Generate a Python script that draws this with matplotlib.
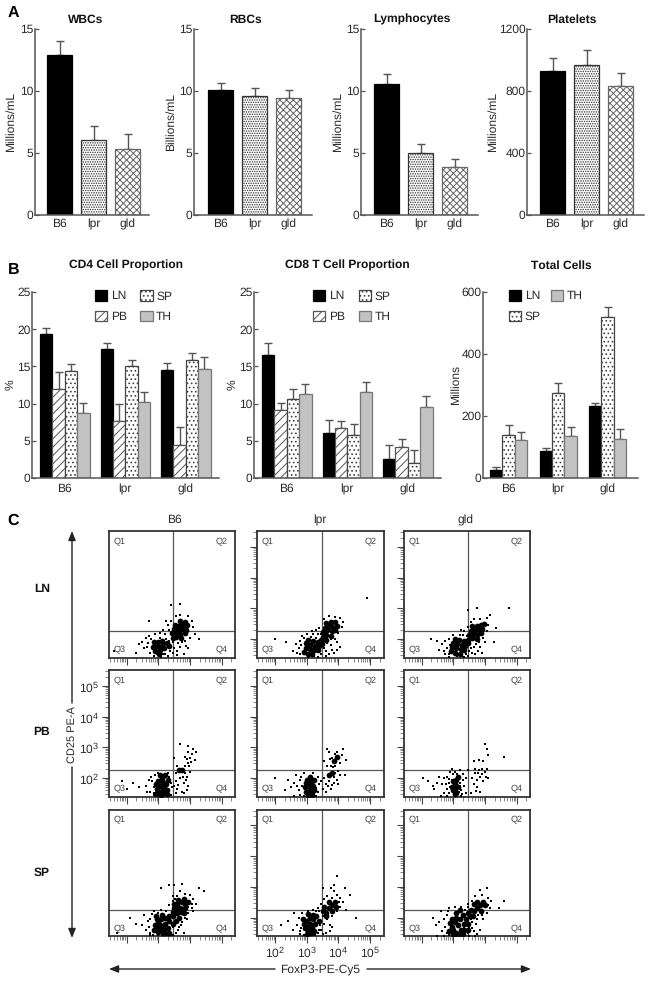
import matplotlib
matplotlib.use("Agg")
import matplotlib.pyplot as plt
from matplotlib.patches import Patch
from matplotlib.ticker import LogLocator, NullFormatter, FixedLocator

plt.rcParams['font.family'] = ['Liberation Sans', 'DejaVu Sans']
plt.rcParams['mathtext.default'] = 'regular'
plt.rcParams['hatch.linewidth'] = 0.7
plt.rcParams['text.hinting'] = 'none'
plt.rcParams['text.hinting_factor'] = 1
W, H = 651, 982
INK = '#2a2a2a'
LINE = '#555555'

# ---- Panel A ----
strains = ['B6', 'lpr', 'gld']
wbc = [12.9, 6.05, 5.3];      wbc_top = [14.0, 7.15, 6.55]
rbc = [10.05, 9.6, 9.45];     rbc_top = [10.65, 10.25, 10.1]
lym = [10.6, 5.0, 3.9];       lym_top = [11.35, 5.75, 4.55]
plt_v = [930, 970, 835];      plt_top = [1015, 1065, 915]

# ---- Panel B ----
cd4_ln = [19.4, 17.3, 14.5];  cd4_ln_top = [20.2, 18.1, 15.4]
cd4_pb = [12.0, 7.7, 4.4];    cd4_pb_top = [14.3, 10.0, 6.8]
cd4_sp = [14.4, 15.0, 15.9];  cd4_sp_top = [15.3, 15.8, 16.8]
cd4_th = [8.8, 10.2, 14.7];   cd4_th_top = [10.1, 11.5, 16.2]
cd8_ln = [16.5, 6.0, 2.5];    cd8_ln_top = [18.2, 7.8, 4.4]
cd8_pb = [9.2, 6.7, 4.2];     cd8_pb_top = [10.1, 7.6, 5.3]
cd8_sp = [10.6, 5.8, 2.0];    cd8_sp_top = [12.0, 7.2, 3.8]
cd8_th = [11.3, 11.6, 9.6];   cd8_th_top = [12.6, 12.9, 11.0]
tot_ln = [25, 87, 232];       tot_ln_top = [35, 97, 243]
tot_sp = [140, 274, 520];     tot_sp_top = [172, 306, 552]
tot_th = [122, 137, 127];     tot_th_top = [150, 163, 158]

# ---- Panel C: hand-read positions, x,y pairs in hundredths of log10 units ----
# CORE = where the cloud is solid black, DOTS = single stray events around it
LN_B6_CORE = [345,205, 357,208, 371,203, 344,219, 358,221, 370,217, 383,220, 351,233, 362,231, 375,234, 388,231, 353,246, 366,244, 378,247, 391,245, 369,258, 383,257, 287,189, 299,192, 311,194, 284,174, 297,178, 313,179, 326,186, 291,162, 306,166, 319,170, 333,176, 301,152]
LN_B6_DOTS = [330,175, 335,195, 325,200, 315,165, 320,185, 250,190, 260,205, 265,175, 270,210, 275,155, 255,170, 240,185, 290,215, 305,220, 315,230, 330,245, 340,260, 355,275, 370,280, 395,275, 405,260, 410,240, 415,215, 400,205, 385,195, 370,175, 360,160, 345,155, 380,150, 330,145, 285,145, 310,143, 340,310, 370,315, 270,260, 430,200, 160,160, 230,155, 395,170, 325,260, 278,200, 295,150, 322,150, 338,162, 350,170, 362,188, 376,192, 268,188, 305,205, 345,190, 335,230, 322,215, 315,150, 358,148, 388,178]
LN_LPR_CORE = [350,208, 362,214, 376,210, 351,222, 364,228, 378,225, 390,228, 356,237, 368,241, 381,240, 394,243, 362,252, 375,254, 388,254, 345,196, 360,198, 292,158, 304,152, 318,150, 296,172, 309,167, 322,165, 336,163, 298,186, 311,181, 325,179, 339,177, 305,196, 320,194, 334,191, 348,184]
LN_LPR_DOTS = [280,195, 285,210, 290,150, 300,215, 320,215, 330,205, 340,170, 345,150, 360,160, 375,180, 390,200, 400,220, 410,240, 415,255, 405,270, 390,272, 370,275, 355,265, 340,235, 330,230, 315,225, 275,170, 270,155, 265,185, 370,150, 385,155, 405,175, 335,143, 305,143, 490,335, 200,200, 235,190, 255,160, 395,190, 350,180, 375,200, 278,150, 283,180, 355,170, 365,187, 380,165, 395,165, 345,215, 335,217, 312,207, 290,203, 362,145, 322,145]
LN_GLD_CORE = [348,198, 360,203, 374,200, 350,212, 362,216, 376,213, 389,219, 355,227, 367,230, 380,228, 392,234, 360,241, 374,244, 386,246, 397,250, 294,160, 306,155, 320,152, 296,174, 309,171, 323,167, 334,163, 298,188, 312,185, 326,181, 338,178, 305,200, 318,197, 333,193, 345,187]
LN_GLD_DOTS = [285,150, 290,180, 285,200, 300,212, 320,212, 335,225, 345,240, 355,255, 365,265, 385,265, 405,268, 410,245, 405,225, 395,205, 380,190, 365,175, 350,160, 345,145, 370,150, 390,155, 335,143, 270,160, 265,185, 255,165, 275,195, 230,200, 250,195, 285,143, 435,235, 475,300, 415,280, 345,295, 375,300, 430,190, 325,230, 312,145, 328,146, 355,172, 372,185, 384,175, 340,150, 358,155, 280,172, 275,150, 400,190, 378,162, 342,210, 330,214]
PB_B6_CORE = [300,190, 311,200, 316,185, 305,175, 316,165, 305,155, 320,150, 310,145, 325,180, 295,165, 320,210, 330,195, 365,227, 375,227, 294,180, 318,175, 300,147, 326,160, 306,210, 326,148, 312,190, 296,152]
PB_B6_DOTS = [280,190, 285,170, 290,210, 275,155, 285,150, 300,218, 330,215, 340,185, 335,160, 340,145, 260,175, 240,170, 220,185, 200,165, 185,190, 355,190, 360,165, 370,200, 380,185, 375,155, 390,205, 355,215, 360,240, 385,240, 395,250, 400,265, 405,280, 395,285, 410,295, 385,270, 395,305, 370,310, 350,265, 415,260, 420,285, 385,215, 400,220, 395,175, 265,155, 290,143, 330,143, 270,195, 278,205, 288,145, 335,205, 342,170, 350,175, 362,178, 378,205, 386,195, 392,160, 380,150, 356,150, 390,262, 403,252, 398,240]
PB_LPR_CORE = [300,195, 310,205, 315,190, 305,180, 310,165, 315,155, 305,145, 320,175, 295,170, 395,270, 385,255, 380,215, 370,210, 318,145, 298,155, 305,192, 322,160, 312,178, 296,185, 322,195, 308,150]
PB_LPR_DOTS = [280,195, 285,175, 275,160, 260,185, 250,170, 240,195, 230,160, 265,210, 290,218, 320,218, 335,205, 340,180, 335,155, 330,143, 290,143, 260,143, 355,200, 360,180, 370,190, 385,185, 395,195, 375,165, 390,215, 405,210, 365,240, 375,240, 390,240, 405,250, 410,275, 415,295, 395,285, 370,285, 365,295, 425,260, 355,255, 380,265, 400,180, 420,210, 360,155, 200,200, 270,175, 278,145, 283,205, 330,168, 345,190, 352,165, 368,175, 378,178, 385,205, 398,222, 383,235, 372,262, 388,280]
PB_GLD_CORE = [300,190, 310,195, 305,175, 315,170, 300,160, 310,150, 315,205, 306,182, 304,148, 296,170]
PB_GLD_DOTS = [280,205, 285,185, 290,220, 280,165, 285,150, 295,195, 295,230, 305,220, 320,225, 320,185, 325,160, 330,195, 335,175, 325,143, 340,150, 305,143, 280,143, 260,143, 265,180, 255,205, 250,185, 235,175, 220,190, 205,200, 240,165, 270,200, 360,200, 365,180, 370,215, 375,195, 380,225, 385,205, 390,230, 395,190, 400,220, 405,230, 375,170, 385,155, 410,200, 395,255, 365,255, 380,260, 405,295, 400,310, 410,275, 460,270, 355,150, 345,225, 290,172, 298,212, 312,212, 318,155, 322,175, 330,212, 288,198, 276,182, 272,152, 312,162, 328,148, 340,200, 378,215, 392,212, 402,205, 372,158, 368,228]
SP_B6_CORE = [290,175, 300,185, 310,195, 300,165, 310,155, 305,175, 320,180, 320,200, 295,195, 315,150, 360,215, 370,230, 360,245, 375,250, 385,245, 350,230, 345,205, 355,190, 380,260, 335,190, 330,165, 365,200, 300,152, 286,160, 322,165, 334,205, 312,210, 292,206, 345,218, 358,232, 372,217, 385,232, 394,252, 362,258, 350,245, 380,215, 348,178, 335,150, 322,150, 312,167]
SP_B6_DOTS = [275,195, 270,170, 275,150, 260,160, 285,220, 300,215, 310,225, 325,220, 335,240, 345,255, 360,270, 385,278, 400,275, 410,260, 420,245, 405,230, 395,215, 385,200, 375,185, 365,170, 355,150, 340,145, 380,150, 250,175, 230,180, 210,200, 170,150, 310,295, 335,305, 350,305, 375,310, 430,295, 445,285, 325,143, 300,143, 275,143, 395,235, 345,270, 370,285, 410,220, 255,210, 345,170, 268,188, 282,143, 280,212, 312,143, 348,143, 362,160, 372,175, 392,195, 405,245, 352,262]
SP_LPR_CORE = [290,180, 300,190, 310,200, 300,170, 305,155, 310,180, 320,195, 315,165, 300,145, 360,215, 370,230, 380,240, 390,250, 370,250, 350,220, 330,205, 295,165, 288,195, 312,150, 326,178, 304,212, 320,210, 338,190, 355,235, 362,205, 378,222, 392,235, 322,155]
SP_LPR_DOTS = [275,200, 270,175, 280,155, 285,215, 305,220, 320,225, 330,180, 335,230, 345,190, 345,245, 355,260, 365,270, 380,265, 395,275, 405,265, 415,250, 405,235, 395,220, 380,205, 365,195, 355,180, 345,160, 335,150, 360,150, 380,170, 255,160, 240,190, 220,175, 260,215, 350,295, 385,305, 395,335, 420,295, 435,275, 455,200, 375,295, 325,143, 290,143, 320,150, 425,225, 342,175, 338,160, 350,205, 282,165, 278,145, 352,145, 372,175, 372,155, 402,252, 385,285, 340,220, 328,222]
SP_GLD_CORE = [295,170, 305,185, 310,200, 300,160, 310,150, 315,175, 320,195, 325,160, 310,215, 330,210, 295,195, 300,147, 340,195, 365,220, 375,230, 385,240, 395,250, 375,250, 355,225, 345,215, 400,240, 290,183, 318,147, 333,178, 322,225, 345,180, 362,205, 386,223, 366,245, 352,205, 335,160, 330,147, 288,157, 346,160]
SP_GLD_DOTS = [275,170, 270,195, 280,210, 280,150, 265,155, 255,185, 245,175, 235,200, 260,220, 285,230, 305,235, 325,235, 345,245, 360,255, 370,270, 390,272, 410,265, 420,255, 415,230, 405,215, 390,210, 375,195, 360,185, 350,170, 345,150, 365,155, 385,160, 375,145, 445,230, 460,255, 385,290, 405,295, 330,141, 300,141, 270,141, 250,141, 350,141, 370,141, 355,195, 335,170, 285,143, 310,141, 322,141, 360,165, 372,180, 395,195, 410,240, 378,210, 348,235, 338,226, 284,222]

x_major = [1e2, 1e3, 1e4, 1e5]
y_major = [1e2, 1e3, 1e4, 1e5]
x_labels = ['$10^2$', '$10^3$', '$10^4$', '$10^5$']

fig = plt.figure(figsize=(W / 100, H / 100), dpi=100, facecolor='white')

def axes_px(l, t, r, b, **kw):
    return fig.add_axes([l / W, 1 - b / H, (r - l) / W, (b - t) / H], **kw)

def style(ax, xpad):
    for s in ('top', 'right'):
        ax.spines[s].set_visible(False)
    for s in ('left', 'bottom'):
        ax.spines[s].set_color(LINE)
        ax.spines[s].set_linewidth(1.1)
    ax.tick_params(axis='y', direction='in', length=3, width=0.9, color=LINE, labelsize=8.8, labelcolor=INK, pad=1.2)
    ax.tick_params(axis='x', length=0, labelsize=8.6, labelcolor=INK, pad=xpad)

FILL = {
    'black': dict(facecolor='black', edgecolor='black'),
    'stipple': dict(facecolor='white', edgecolor='#333333', hatch='.......'),
    'cross': dict(facecolor='white', edgecolor='#666666', hatch='xxxxx'),
    'slash': dict(facecolor='white', edgecolor='#555555', hatch='////'),
    'dots': dict(facecolor='white', edgecolor='#444444', hatch='....'),
    'gray': dict(facecolor='#c2c2c2', edgecolor='#777777'),
}

def err(ax, x, y, top):
    ax.errorbar(x, y, yerr=[[0] * len(y), [t - v for t, v in zip(top, y)]], fmt='none',
                ecolor=LINE, elinewidth=1.0, capsize=2.6, capthick=1.0, zorder=1)

def panel_a(l, r, c0, vals, tops, ymax, yticks, ylabel, lab_x):
    ax = axes_px(l, 29, r, 215)
    style(ax, 2.5)
    step, bw = 34.0, 25.0
    ax.set_xlim(-(c0 - l) / step, (r - c0) / step)
    ax.set_ylim(0, ymax)
    x = list(range(3))
    for xi, v, k in zip(x, vals, ('black', 'stipple', 'cross')):
        ax.bar(xi, v, width=bw / step, linewidth=0.9, zorder=2, **FILL[k])
    err(ax, x, vals, tops)
    ax.set_xticks(x, strains)
    ax.set_yticks(yticks)
    ax.set_ylabel(ylabel, fontsize=8.6, color=INK)
    ax.yaxis.set_label_coords((lab_x + 6 - l) / (r - l), 0.5)

panel_a(35, 149, 59.5, wbc, wbc_top, 15, [0, 5, 10, 15], 'Millions/mL', 10)
panel_a(194, 312, 220.5, rbc, rbc_top, 15, [0, 5, 10, 15], 'Billions/mL', 170)
panel_a(361, 478, 386.5, lym, lym_top, 15, [0, 5, 10, 15], 'Millions/mL', 337)
panel_a(527, 644, 552.5, plt_v, plt_top, 1200, [0, 400, 800, 1200], 'Millions/mL', 492)

def panel_b(l, r, c0, series, ymax, yticks, ylabel, lab_x, leg_xy, group_step, colsp):
    ax = axes_px(l, 292, r, 478)
    style(ax, 4)
    bw = 12.4
    n = len(series)
    ax.set_xlim((l - c0) / group_step, (r - c0) / group_step)
    ax.set_ylim(0, ymax)
    handles = []
    for i, (name, vals, tops, k) in enumerate(series):
        x = [g + i * bw / group_step for g in range(3)]
        ax.bar(x, vals, width=bw / group_step, align='edge', linewidth=0.9, zorder=2, **FILL[k])
        err(ax, [v + 0.5 * bw / group_step for v in x], vals, tops)
        handles.append(Patch(label=name, linewidth=0.9, **FILL[k]))
    ax.set_xticks([g + n * bw / group_step / 2 for g in range(3)], strains)
    ax.set_yticks(yticks)
    ax.set_ylabel(ylabel, fontsize=8.6, color=INK)
    ax.yaxis.set_label_coords((lab_x + 6 - l) / (r - l), 0.5)
    ax.legend(handles=handles, ncol=2, frameon=False, fontsize=8.8, labelcolor=INK,
              loc='upper left', bbox_to_anchor=((leg_xy[0] - l) / (r - l), 1 - (leg_xy[1] - 292) / 186),
              borderpad=0, borderaxespad=0, handlelength=1.0, handleheight=0.95,
              handletextpad=0.3, columnspacing=colsp, labelspacing=0.7)

panel_b(32, 219, 40, [('LN', cd4_ln, cd4_ln_top, 'black'), ('PB', cd4_pb, cd4_pb_top, 'slash'),
                      ('SP', cd4_sp, cd4_sp_top, 'dots'), ('TH', cd4_th, cd4_th_top, 'gray')],
        25, [0, 5, 10, 15, 20, 25], '%', 10, (95, 290), 60.5, 1.1)
panel_b(254, 441, 262, [('LN', cd8_ln, cd8_ln_top, 'black'), ('PB', cd8_pb, cd8_pb_top, 'slash'),
                        ('SP', cd8_sp, cd8_sp_top, 'dots'), ('TH', cd8_th, cd8_th_top, 'gray')],
        25, [0, 5, 10, 15, 20, 25], '%', 232, (313, 290), 60.5, 1.15)
panel_b(483, 638, 490, [('LN', tot_ln, tot_ln_top, 'black'), ('SP', tot_sp, tot_sp_top, 'dots'),
                        ('TH', tot_th, tot_th_top, 'gray')],
        600, [0, 200, 400, 600], 'Millions', 455, (509, 290), 49.5, 0.8)

def flow(l, t, core, dots, left_ticks, left_labels, bottom_labels):
    ax = axes_px(l, t, l + 126.5, t + 126.5)
    ax.set_xscale('log')
    ax.set_yscale('log')
    ax.set_xlim(10 ** 1.43, 10 ** 5.42)
    ax.set_ylim(10 ** 1.40, 10 ** 5.52)
    for s in ax.spines.values():
        s.set_color('#333333')
        s.set_linewidth(1.3)
    ax.scatter([10 ** (v / 100) for v in core[0::2]], [10 ** (v / 100) for v in core[1::2]], s=17,
               c='black', marker='o', linewidths=0, zorder=3)
    ax.scatter([10 ** (v / 100) for v in dots[0::2]], [10 ** (v / 100) for v in dots[1::2]], s=2.0,
               c='black', marker='s', linewidths=0, zorder=3)
    ax.axvline(10 ** 3.48, color=LINE, lw=0.9, zorder=2)
    ax.axhline(10 ** 2.26, color=LINE, lw=0.9, zorder=2)
    for axis in (ax.xaxis, ax.yaxis):
        axis.set_major_locator(FixedLocator(x_major))
        axis.set_minor_locator(LogLocator(base=10, subs=range(2, 10), numticks=8))
        axis.set_minor_formatter(NullFormatter())
    ax.tick_params(which='major', length=5, width=0.8, color='#444444', labelsize=8.8, labelcolor=INK, pad=1.5)
    ax.tick_params(which='minor', length=2.6, width=0.5, color='#555555')
    ax.set_xticklabels(x_labels if bottom_labels else [])
    ax.set_yticklabels(x_labels if left_labels else [])
    if not left_ticks:
        ax.tick_params(axis='y', which='both', left=False)
    for txt, fx, fy in (('Q1', .085, .925), ('Q2', .895, .925), ('Q3', .085, .065), ('Q4', .895, .065)):
        ax.text(fx, fy, txt, transform=ax.transAxes, fontsize=6.8, color='#444444', ha='center', va='center')

cols = [108.5, 257, 403.5]
rows = [531, 670, 809.5]
panels = [[(LN_B6_CORE, LN_B6_DOTS), (LN_LPR_CORE, LN_LPR_DOTS), (LN_GLD_CORE, LN_GLD_DOTS)],
          [(PB_B6_CORE, PB_B6_DOTS), (PB_LPR_CORE, PB_LPR_DOTS), (PB_GLD_CORE, PB_GLD_DOTS)],
          [(SP_B6_CORE, SP_B6_DOTS), (SP_LPR_CORE, SP_LPR_DOTS), (SP_GLD_CORE, SP_GLD_DOTS)]]
for ri, t in enumerate(rows):
    for ci, l in enumerate(cols):
        c, d = panels[ri][ci]
        flow(l, t, c, d, left_ticks=(ci > 0 or ri == 1), left_labels=(ci == 0 and ri == 1),
             bottom_labels=(ci == 1 and ri == 2))

# overlay in pixel coordinates for titles and annotations
ov = fig.add_axes([0, 0, 1, 1], facecolor='none', zorder=10)
ov.set_xlim(0, W); ov.set_ylim(H, 0); ov.axis('off')
def T(x, y, s, size=8.6, bold=False, rot=0, color=INK, va='center'):
    ov.text(x, y, s, fontsize=size, fontweight='bold' if bold else 'normal', ha='center', va=va,
            rotation=rot, color=color)
for x, s in ((86, 'WBCs'), (245.5, 'RBCs'), (411.5, 'Lymphocytes'), (572, 'Platelets')):
    T(x, 22.5, s, 8.5, True, color='#111111', va='baseline')
for x, s in ((126, 'CD4 Cell Proportion'), (347, 'CD8 T Cell Proportion'), (561, 'Total Cells')):
    T(x, 269, s, 8.5, True, color='#111111', va='baseline')
T(13.5, 12.5, 'A', 11.5, True, color='black')
T(13.5, 269.5, 'B', 11.5, True, color='black')
T(13.5, 521, 'C', 11.5, True, color='black')
for x, s in ((174, 'B6'), (320, 'lpr'), (466, 'gld')):
    T(x, 520, s, 8.6)
for y, s in ((589, 'LN'), (732, 'PB'), (873, 'SP')):
    T(42, y, s, 8.6, True, color='#111111')
T(72, 735, 'CD25 PE-A', 8.2, rot=90)
T(320.5, 969, 'FoxP3-PE-Cy5', 8.3)
arrow = dict(arrowstyle='-|>,head_length=0.55,head_width=0.22', color='#222222', lw=1.0, shrinkA=0, shrinkB=0, mutation_scale=10)
ov.annotate('', xy=(72, 531), xytext=(72, 703), arrowprops=arrow)
ov.annotate('', xy=(72, 938), xytext=(72, 767), arrowprops=arrow)
ov.annotate('', xy=(109, 969), xytext=(275, 969), arrowprops=arrow)
ov.annotate('', xy=(531, 969), xytext=(367, 969), arrowprops=arrow)

fig.savefig('out.png', dpi=100)
